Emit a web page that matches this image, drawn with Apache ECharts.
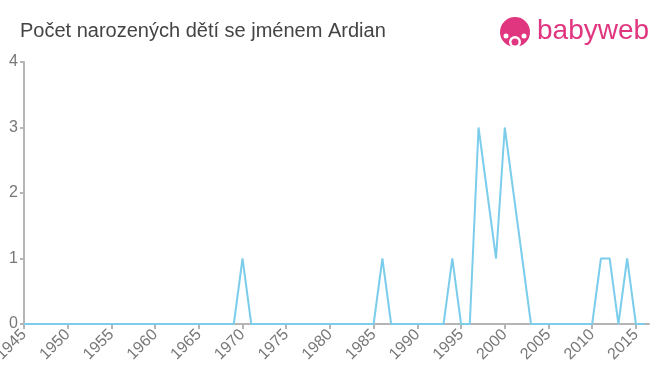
<!DOCTYPE html>
<html>
<head>
<meta charset="utf-8">
<script src="https://cdn.jsdelivr.net/npm/echarts@6/dist/echarts.min.js"></script>
<style>html,body{margin:0;padding:0;background:#fff}#c{width:660px;height:375px}</style>
</head>
<body>
<div id="c"></div>
<script>
const years = [1945,1946,1947,1948,1949,1950,1951,1952,1953,1954,1955,1956,1957,1958,1959,1960,1961,1962,1963,1964,1965,1966,1967,1968,1969,1970,1971,1972,1973,1974,1975,1976,1977,1978,1979,1980,1981,1982,1983,1984,1985,1986,1987,1988,1989,1990,1991,1992,1993,1994,1995,1996,1997,1998,1999,2000,2001,2002,2003,2004,2005,2006,2007,2008,2009,2010,2011,2012,2013,2014,2015,2016];
const counts = [0,0,0,0,0,0,0,0,0,0,0,0,0,0,0,0,0,0,0,0,0,0,0,0,0,1,0,0,0,0,0,0,0,0,0,0,0,0,0,0,0,1,0,0,0,0,0,0,0,1,0,0,3,2,1,3,2,1,0,0,0,0,0,0,0,0,1,1,0,1,0,0];
const yTicks = [0,1,2,3,4];
const titleText = 'Počet narozených dětí se jménem Ardian';

const chart = echarts.init(document.getElementById('c'), null, {renderer:'canvas'});
chart.setOption({
  animation:false,
  title:{text:titleText,left:15,top:16,textStyle:{fontFamily:'Liberation Sans, Arial, sans-serif',fontSize:20,fontWeight:'normal',color:'#444'}},
  grid:{left:24,right:11,top:62,bottom:51,containLabel:false,outerBoundsMode:'none'},
  xAxis:{type:'value',min:1945,max:2016.5,interval:5,
    axisLine:{lineStyle:{color:'#b5b5b5',width:2}},
    axisTick:{show:true,length:5,lineStyle:{color:'#b5b5b5',width:2}},
    splitLine:{show:false},
    axisLabel:{rotate:45,color:'#777',fontSize:16,fontFamily:'Liberation Sans, Arial, sans-serif',margin:8,showMaxLabel:false,hideOverlap:false,formatter:v=>String(v)}
  },
  yAxis:{type:'value',min:0,max:4,interval:1,
    axisLine:{show:true,lineStyle:{color:'#b5b5b5',width:2}},
    axisTick:{show:true,length:4,lineStyle:{color:'#b5b5b5',width:2}},
    splitLine:{show:false},
    axisLabel:{color:'#777',fontSize:16,fontFamily:'Liberation Sans, Arial, sans-serif',margin:6,formatter:v=>yTicks.includes(v)?String(v):''}
  },
  series:[{type:'line',data:years.map((y,i)=>[y,counts[i]]),symbol:'none',lineStyle:{color:'#7ccdec',width:2},z:1}],
  graphic:[
    {type:'circle',shape:{cx:515,cy:32,r:15},style:{fill:'#e0357f'}},
    {type:'circle',shape:{cx:515,cy:42,r:6},style:{fill:'#fff'}},
    {type:'circle',shape:{cx:515,cy:42,r:3.5},style:{fill:'#e0357f'}},
    {type:'circle',shape:{cx:506,cy:36,r:2.5},style:{fill:'#fff'}},
    {type:'circle',shape:{cx:524,cy:36,r:2.5},style:{fill:'#fff'}},
    {type:'text',left:537,top:17,style:{text:'babyweb',fill:'#e0357f',fontSize:28,fontFamily:'Liberation Sans, Arial, sans-serif'}}
  ]
});
</script>
</body>
</html>
